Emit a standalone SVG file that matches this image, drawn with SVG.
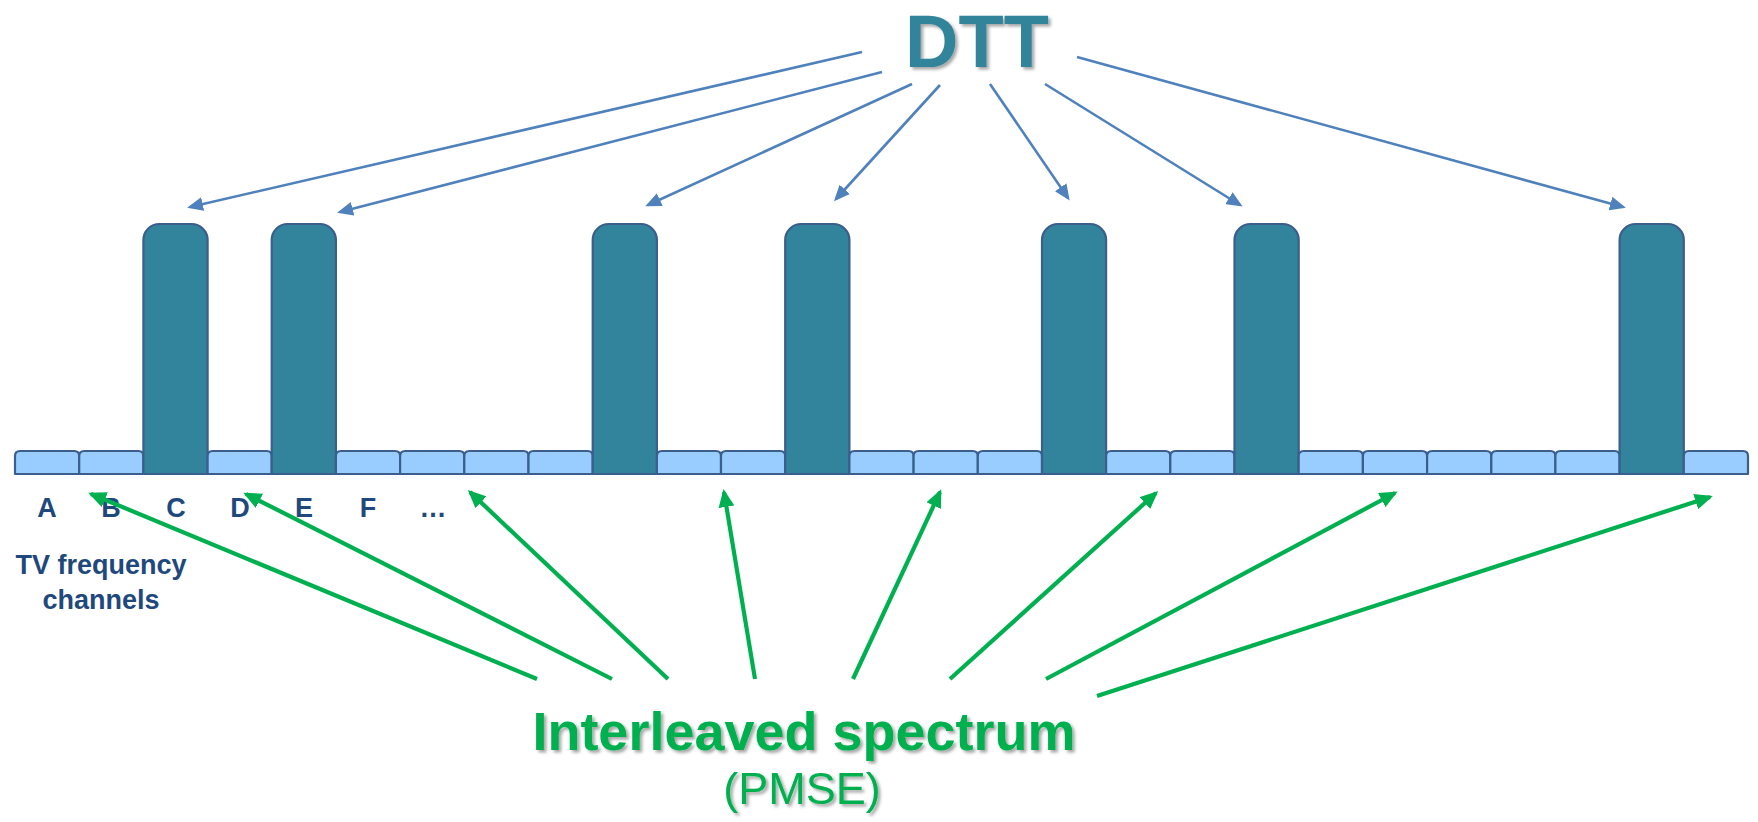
<svg xmlns="http://www.w3.org/2000/svg" width="1758" height="822" viewBox="0 0 1758 822">
<style>
.cell{fill:#99CCFF;stroke:#3B5E8C;stroke-width:2.2;stroke-linejoin:round}
.bar{fill:#31849B;stroke:#3B5E8C;stroke-width:2.2;stroke-linejoin:round}
.lbl{font-family:"Liberation Sans",Arial,sans-serif;font-weight:bold;font-size:27px;fill:#1F497D;text-anchor:middle}
.blue{stroke:#4F81BD;stroke-width:2.6;fill:none;marker-end:url(#ab)}
.green{stroke:#00B050;stroke-width:4.2;fill:none;marker-end:url(#ag)}
</style>
<defs>
<marker id="ab" markerUnits="userSpaceOnUse" markerWidth="16" markerHeight="14" refX="13" refY="7" orient="auto"><path d="M0,0 L16,7 L0,14 z" fill="#4F81BD"/></marker>
<marker id="ag" markerUnits="userSpaceOnUse" markerWidth="18" markerHeight="16" refX="15" refY="8" orient="auto"><path d="M0,0 L18,8 L0,16 z" fill="#00B050"/></marker>
<filter id="sh" x="-10%" y="-10%" width="130%" height="140%"><feDropShadow dx="2.5" dy="2.5" stdDeviation="1.5" flood-color="#000" flood-opacity="0.35"/></filter>
</defs>
<rect width="1758" height="822" fill="#fff"/>

<g id="channels">
<g id="ch-A"><path class="cell" d="M15,474V456Q15,451 20,451H74.2Q79.2,451 79.2,456V474Z"/></g>
<g id="ch-B"><path class="cell" d="M79.2,474V456Q79.2,451 84.2,451H138.4Q143.4,451 143.4,456V474Z"/></g>
<g id="ch-C"><path class="bar" d="M143.4,474V240A16,16 0 0 1 159.4,224H191.6A16,16 0 0 1 207.6,240V474Z"/></g>
<g id="ch-D"><path class="cell" d="M207.6,474V456Q207.6,451 212.6,451H266.7Q271.7,451 271.7,456V474Z"/></g>
<g id="ch-E"><path class="bar" d="M271.7,474V240A16,16 0 0 1 287.7,224H319.9A16,16 0 0 1 335.9,240V474Z"/></g>
<g id="ch-F"><path class="cell" d="M335.9,474V456Q335.9,451 340.9,451H395.1Q400.1,451 400.1,456V474Z"/></g>
<g id="ch-7"><path class="cell" d="M400.1,474V456Q400.1,451 405.1,451H459.3Q464.3,451 464.3,456V474Z"/></g>
<g id="ch-8"><path class="cell" d="M464.3,474V456Q464.3,451 469.3,451H523.5Q528.5,451 528.5,456V474Z"/></g>
<g id="ch-9"><path class="cell" d="M528.5,474V456Q528.5,451 533.5,451H587.7Q592.7,451 592.7,456V474Z"/></g>
<g id="ch-10"><path class="bar" d="M592.7,474V240A16,16 0 0 1 608.7,224H640.9A16,16 0 0 1 656.9,240V474Z"/></g>
<g id="ch-11"><path class="cell" d="M656.9,474V456Q656.9,451 661.9,451H716Q721,451 721,456V474Z"/></g>
<g id="ch-12"><path class="cell" d="M721,474V456Q721,451 726,451H780.2Q785.2,451 785.2,456V474Z"/></g>
<g id="ch-13"><path class="bar" d="M785.2,474V240A16,16 0 0 1 801.2,224H833.4A16,16 0 0 1 849.4,240V474Z"/></g>
<g id="ch-14"><path class="cell" d="M849.4,474V456Q849.4,451 854.4,451H908.6Q913.6,451 913.6,456V474Z"/></g>
<g id="ch-15"><path class="cell" d="M913.6,474V456Q913.6,451 918.6,451H972.8Q977.8,451 977.8,456V474Z"/></g>
<g id="ch-16"><path class="cell" d="M977.8,474V456Q977.8,451 982.8,451H1037Q1042,451 1042,456V474Z"/></g>
<g id="ch-17"><path class="bar" d="M1042,474V240A16,16 0 0 1 1058,224H1090.1A16,16 0 0 1 1106.1,240V474Z"/></g>
<g id="ch-18"><path class="cell" d="M1106.1,474V456Q1106.1,451 1111.1,451H1165.3Q1170.3,451 1170.3,456V474Z"/></g>
<g id="ch-19"><path class="cell" d="M1170.3,474V456Q1170.3,451 1175.3,451H1229.5Q1234.5,451 1234.5,456V474Z"/></g>
<g id="ch-20"><path class="bar" d="M1234.5,474V240A16,16 0 0 1 1250.5,224H1282.7A16,16 0 0 1 1298.7,240V474Z"/></g>
<g id="ch-21"><path class="cell" d="M1298.7,474V456Q1298.7,451 1303.7,451H1357.9Q1362.9,451 1362.9,456V474Z"/></g>
<g id="ch-22"><path class="cell" d="M1362.9,474V456Q1362.9,451 1367.9,451H1422.1Q1427.1,451 1427.1,456V474Z"/></g>
<g id="ch-23"><path class="cell" d="M1427.1,474V456Q1427.1,451 1432.1,451H1486.3Q1491.3,451 1491.3,456V474Z"/></g>
<g id="ch-24"><path class="cell" d="M1491.3,474V456Q1491.3,451 1496.3,451H1550.4Q1555.4,451 1555.4,456V474Z"/></g>
<g id="ch-25"><path class="cell" d="M1555.4,474V456Q1555.4,451 1560.4,451H1614.6Q1619.6,451 1619.6,456V474Z"/></g>
<g id="ch-26"><path class="bar" d="M1619.6,474V240A16,16 0 0 1 1635.6,224H1667.8A16,16 0 0 1 1683.8,240V474Z"/></g>
<g id="ch-27"><path class="cell" d="M1683.8,474V456Q1683.8,451 1688.8,451H1743Q1748,451 1748,456V474Z"/></g>
</g>

<g id="channel-labels">
<text class="lbl" x="47" y="517">A</text>
<text class="lbl" x="111" y="517">B</text>
<text class="lbl" x="176" y="517">C</text>
<text class="lbl" x="240" y="517">D</text>
<text class="lbl" x="304" y="517">E</text>
<text class="lbl" x="368" y="517">F</text>
<text class="lbl" x="433" y="517">…</text>
</g>

<g id="tv-label">
<text class="lbl" x="101" y="574" font-size="29">TV frequency</text>
<text class="lbl" x="101" y="609" font-size="29">channels</text>
</g>

<g id="dtt">
<text x="977" y="67" font-family="'Liberation Sans',Arial,sans-serif" font-weight="bold" font-size="74" fill="#31849B" text-anchor="middle" filter="url(#sh)">DTT</text>
</g>

<g id="pmse">
<text x="804" y="750" font-family="'Liberation Sans',Arial,sans-serif" font-weight="bold" font-size="54" fill="#00B050" text-anchor="middle" filter="url(#sh)">Interleaved spectrum</text>
<text x="802" y="804" font-family="'Liberation Sans',Arial,sans-serif" font-size="45" fill="#00B050" text-anchor="middle" filter="url(#sh)">(PMSE)</text>
</g>

<g id="connectors">
<line class="blue" x1="862" y1="52" x2="190" y2="207"/>
<line class="blue" x1="882" y1="72" x2="340" y2="212"/>
<line class="blue" x1="912" y1="84" x2="648" y2="205"/>
<line class="blue" x1="940" y1="85" x2="836" y2="199"/>
<line class="blue" x1="990" y1="84" x2="1068" y2="198"/>
<line class="blue" x1="1045" y1="84" x2="1240" y2="205"/>
<line class="blue" x1="1077" y1="57" x2="1623" y2="207"/>
<line class="green" x1="537" y1="679" x2="91" y2="494"/>
<line class="green" x1="612" y1="679" x2="246" y2="494"/>
<line class="green" x1="668" y1="679" x2="470" y2="492"/>
<line class="green" x1="755" y1="679" x2="724" y2="492"/>
<line class="green" x1="853" y1="679" x2="940" y2="492"/>
<line class="green" x1="950" y1="679" x2="1156" y2="493"/>
<line class="green" x1="1046" y1="679" x2="1395" y2="493"/>
<line class="green" x1="1097" y1="696" x2="1710" y2="497"/>
</g>
</svg>
